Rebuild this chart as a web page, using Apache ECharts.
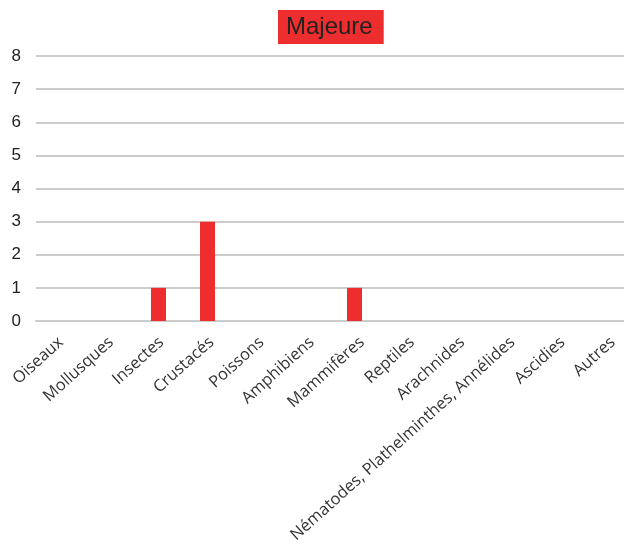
<!DOCTYPE html>
<html>
<head>
<meta charset="utf-8">
<script src="https://cdn.jsdelivr.net/npm/echarts@6/dist/echarts.min.js"></script>
<style>
  html, body { margin: 0; padding: 0; background: #fff; }
  #chart { width: 624px; height: 546px; }
</style>
</head>
<body>
<div id="chart"></div>
<script>
// Groups of prey and their counts for the "Majeure" class
const categories = ['Oiseaux', 'Mollusques', 'Insectes', 'Crustacés', 'Poissons', 'Amphibiens',
  'Mammifères', 'Reptiles', 'Arachnides', 'Nématodes, Plathelminthes, Annélides', 'Ascidies', 'Autres'];
const counts = [0, 0, 1, 3, 0, 0, 1, 0, 0, 0, 0, 0];
const yTicks = [0, 1, 2, 3, 4, 5, 6, 7, 8];

const chart = echarts.init(document.getElementById('chart'));
chart.setOption({
  animation: false,
  title: {
    text: 'Majeure',
    left: 278,
    top: 10,
    backgroundColor: '#ee2e2e',
    padding: [5, 11, 5, 8],
    textStyle: { fontFamily: 'Liberation Sans', fontSize: 24, fontWeight: 'normal', color: '#222' }
  },
  grid: [
    // plotting area
    { left: 36, right: 0, top: 56, bottom: 225, containLabel: false, outerBoundsMode: 'none' },
    // slightly wider band that carries the slanted category labels
    { left: 36, width: 602, top: 56, bottom: 225, containLabel: false, outerBoundsMode: 'none' }
  ],
  xAxis: [
    {
      type: 'category',
      gridIndex: 0,
      data: categories,
      axisLine: { show: true, lineStyle: { color: '#cccccc', width: 2 } },
      axisTick: { show: false },
      axisLabel: { show: false }
    },
    {
      type: 'category',
      gridIndex: 1,
      data: categories,
      axisLine: { show: false },
      axisTick: { show: false },
      splitLine: { show: false },
      axisLabel: {
        interval: 0,
        rotate: 42,
        margin: 19,
        fontFamily: 'Open Sans',
        fontSize: 16.4,
        color: '#333'
      }
    }
  ],
  yAxis: [
    {
      type: 'value',
      gridIndex: 0,
      min: yTicks[0],
      max: yTicks[yTicks.length - 1],
      interval: 1,
      axisLine: { show: false },
      axisTick: { show: false },
      axisLabel: { fontFamily: 'Liberation Sans', fontSize: 17, color: '#222', margin: 15 },
      splitLine: { lineStyle: { color: '#cccccc', width: 2 } }
    },
    {
      type: 'value',
      gridIndex: 1,
      min: yTicks[0],
      max: yTicks[yTicks.length - 1],
      show: false
    }
  ],
  series: [{
    type: 'bar',
    xAxisIndex: 0,
    yAxisIndex: 0,
    data: counts,
    barWidth: 15,
    itemStyle: { color: '#ee2e2e' }
  }]
});
</script>
</body>
</html>
